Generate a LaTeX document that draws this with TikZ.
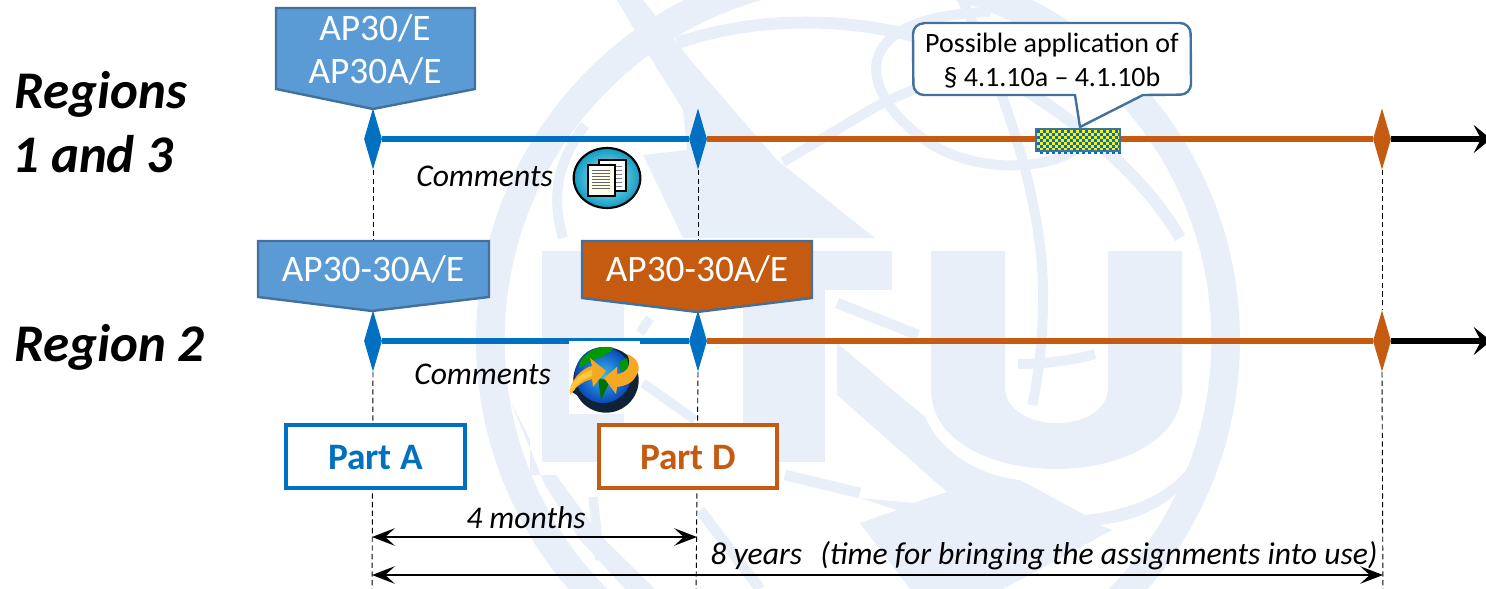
\documentclass[tikz,border=0pt]{standalone}
\usepackage{fontspec}
\setmainfont{Carlito}
\usetikzlibrary{shapes.geometric,arrows.meta}
\definecolor{wm}{HTML}{E8EFF9}
\definecolor{bluebar}{HTML}{0070C0}
\definecolor{rust}{HTML}{C55A11}
\definecolor{steel}{HTML}{41719C}
\definecolor{skyfill}{HTML}{5B9BD5}
\definecolor{iconout}{HTML}{0E9CC4}
\definecolor{iconin}{HTML}{B8ECF4}
\definecolor{globedark}{HTML}{0F2238}
\definecolor{globeblue}{HTML}{0A48B8}
\definecolor{globelight}{HTML}{38B8F0}
\definecolor{arrowa}{HTML}{F7A823}
\definecolor{arrowb}{HTML}{FFC83A}
\tikzset{
  band/.style={draw=wm,line cap=butt,line join=round},
  mark diamond/.style={diamond,aspect=0.3,inner sep=0pt,minimum width=13.5pt,minimum height=46pt,fill=#1,draw=none},
  timeline/.style={line width=4.2pt,draw=#1},
  guide/.style={draw=black,line width=0.7pt,dash pattern=on 4pt off 2.5pt},
  banner/.style={draw=steel,line width=1.8pt,fill=#1,line join=miter},
  bannertext/.style={text=white,font=\fontsize{28}{28}\selectfont,inner sep=0pt,align=center},
  partbox/.style={draw=#1,line width=3pt,fill=white,minimum width=134pt,minimum height=47pt,inner sep=0pt,text=#1,text height=19pt,text depth=0pt,font=\fontsize{28}{28}\selectfont\bfseries},
  region/.style={anchor=base west,inner sep=0pt,font=\fontsize{39.7}{40}\selectfont\bfseries\itshape},
  note/.style={anchor=base west,inner sep=0pt,font=\fontsize{23.7}{24}\selectfont\itshape},
  span/.style={line width=2pt,{Stealth[length=17pt,width=13pt,inset=7pt]}-{Stealth[length=17pt,width=13pt,inset=7pt]}},
  axisend/.style={line width=4.2pt,-{Stealth[length=13pt,width=21pt,inset=5.5pt]}},
}
\begin{document}
\begin{tikzpicture}[x=0.75pt,y=-0.75pt]
\useasboundingbox (0,0) rectangle (1486,589);
\clip (0,0) rectangle (1486,589);
% --- watermark ---
\fill[wm,even odd rule] (858,340) circle [radius=286.5pt] (858,340) circle [radius=265pt];
% letters
\fill[wm] (542,251) rectangle (624,462);
\fill[wm] (640,251) rectangle (892,290);
\fill[wm] (743,290) rectangle (825,462);
\fill[wm,even odd rule] (931,251) -- (1005,251) -- (1005,387) .. controls (1005,410) and (1030,423) .. (1056,423) .. controls (1085,423) and (1108,410) .. (1108,387) -- (1108,251) -- (1182,251) -- (1182,390) .. controls (1182,440) and (1120,469) .. (1056,469) .. controls (990,469) and (931,440) .. (931,390) -- cycle;
% globe meridians
\fill[wm] (617,0) -- (643,0) -- (693,63) -- (777,160) -- (875,238) -- (683,238) -- (643,155) -- (687,150) -- (683,110) -- (650,57) -- cycle;
\draw[band,line width=9pt] (677,43) .. controls (760,15) and (850,18) .. (920,38) .. controls (1010,70) and (1130,150) .. (1180,238);
\draw[band,line width=7.5pt] (1075,150) .. controls (1040,172) and (970,172) .. (925,140) .. controls (890,115) and (872,85) .. (877,60) .. controls (885,30) and (925,14) .. (990,12);
\draw[band,line width=7.5pt] (960,-5) .. controls (1000,80) and (1045,200) .. (1043,300) .. controls (1043,340) and (1038,380) .. (1032,405);
\draw[band,line width=7.5pt] (1018,364) .. controls (1045,364) and (1075,360) .. (1095,354);
\draw[band,line width=7.5pt] (783,162) -- (870,110) .. controls (910,88) and (960,72) .. (1010,62);
\draw[band,line width=7.5pt] (585,125) .. controls (555,165) and (552,200) .. (563,238);
% lower half
\fill[wm] (837,343) -- (925,417) .. controls (940,450) and (975,475) .. (1020,480) -- (1085,515) .. controls (1130,510) and (1170,495) .. (1192,462) .. controls (1190,490) and (1185,490) .. (1180,490) .. controls (1160,510) and (1130,522) .. (1100,525) -- (1112,530) -- (1003,589) -- (910,589) -- (860,523) -- (897,510) -- (860,498) -- (913,503) -- (947,492) -- (837,395) -- cycle;
\draw[band,line width=8pt] (837,303) -- (918,335);
\draw[band,line width=8pt] (785,475) -- (860,493);
\draw[band,line width=7pt] (650,318) -- (640,333);
\draw[band,line width=7pt] (643,383) -- (695,420);
\fill[wm] (510,400) -- (530,440) -- (530,475) -- (556,475) -- (600,535) -- (655,589) -- (625,589) -- (580,540) -- (545,485) -- cycle;
\draw[band,line width=7pt] (593,497) -- (600,560);
\draw[band,line width=8pt] (700,510) -- (760,589);
% --- named marks ---
\node[mark diamond=bluebar] (a1) at (373,139) {};
\node[mark diamond=bluebar] (b1) at (698,139) {};
\node[mark diamond=rust] (c1) at (1382,139) {};
\node[mark diamond=bluebar] (a2) at (373,341) {};
\node[mark diamond=bluebar] (b2) at (698,341) {};
\node[mark diamond=rust] (c2) at (1382,341) {};
\coordinate (e1) at (1491,139);
\coordinate (e2) at (1491,341);
\coordinate (fa) at (372,600);
\coordinate (fb) at (696,600);
\coordinate (fc) at (1383,600);
\coordinate (t1a) at (372,537);
\coordinate (t1b) at (697,537);
\coordinate (t2a) at (372,575);
\coordinate (t2b) at (1383,575);
% --- guides ---
\draw[guide] (a1.south) -- (a2.north);
\draw[guide] (a2.south) -- (fa);
\draw[guide] (b1.south) -- (b2.north);
\draw[guide] (b2.south) -- (fb);
\draw[guide] (c1.south) -- (c2.north);
\draw[guide] (c2.south) -- (fc);
% --- banners ---
\draw[banner=skyfill] (276,8) -- (475,8) -- (475,89) -- (373,109) -- (276,89) -- cycle;
\node[bannertext] (ap1) at (375,28) {AP30/E};
\node[bannertext] (ap2) at (375,71) {AP30A/E};
\draw[banner=skyfill] (258,241) -- (489,241) -- (489,297) -- (372,311) -- (258,297) -- cycle;
\node[bannertext] (ap3) at (373,269) {AP30-30A/E};
\draw[banner=rust] (582,241) -- (812,241) -- (812,298) -- (697,312) -- (582,298) -- cycle;
\node[bannertext] (ap4) at (697,269) {AP30-30A/E};
% --- timelines ---
\draw[timeline=bluebar] (a1.east) -- (b1.west);
\draw[timeline=rust] (b1.east) -- (c1.west);
\draw[axisend] (c1.east) -- (e1);
\draw[timeline=bluebar] (a2.east) -- (b2.west);
\draw[timeline=rust] (b2.east) -- (c2.west);
\draw[axisend] (c2.east) -- (e2);
% --- callout and hatched marker ---
\draw[draw=steel,line width=1.8pt,fill=white,line join=round]
  (924,23) -- (1180,23) arc [start angle=90,end angle=0,radius=8pt] -- (1191,84)
  arc [start angle=0,end angle=-90,radius=8pt] -- (1143,95) -- (1080,127) -- (1075,95) -- (924,95)
  arc [start angle=-90,end angle=-180,radius=8pt] -- (913,34) arc [start angle=180,end angle=90,radius=8pt] -- cycle;
\node[inner sep=0pt,align=center,font=\fontsize{21}{25.5}\selectfont] (callout) at (1052,61) {Possible application of\\§ 4.1.10a – 4.1.10b};
\fill[yellow] (1036,129) rectangle (1120,151);
\foreach \i in {0,...,13}{\foreach \j in {0,...,3}{
  \fill[bluebar] ({1037+6*\i},{130+6*\j}) rectangle +(3,3);
  \fill[bluebar] ({1040+6*\i},{133+6*\j}) rectangle +(3,3);
}}
\draw[steel,line width=1.7pt] (1036,129) rectangle (1120,151);
% --- notes ---
\node[region] (r1) at (14,108) {Regions};
\node[region] (r2) at (12,172) {1 and 3};
\node[region] (r3) at (14,361) {Region 2};
\node[note] (c1t) at (416,186) {Comments};
\node[note] (c2t) at (414,384) {Comments};
% --- document icon ---
\shade[inner color=iconin,outer color=iconout,draw=black,line width=1.6pt] (607,178) ellipse [x radius=25pt,y radius=22.5pt];
\draw[black,fill=white,line width=0.9pt] (599,160) rectangle (626,191);
\foreach \y in {166,170,174,178,182,186} \draw[gray,line width=.6pt] (615,\y) -- (622,\y);
\draw[black,fill=white,line width=1pt] (588,165) rectangle (615,196);
\fill[yellow!8] (590,180) -- (604,167) -- (613,167) -- (613,194) -- (590,194) -- cycle;
\foreach \y in {170,173,176,179,182,185,188} \draw[gray!80!black,line width=.6pt] (592,\y) -- (610,\y);
% --- globe icon ---
\fill[white] (569,341) rectangle (640,414);
\fill[globedark] (606,380) ellipse [x radius=24.5pt,y radius=24.5pt];
\fill[globedark] (572,392) -- (590,378) -- (600,410) -- cycle;
\shade[inner color=globelight,outer color=globeblue] (603,375) circle [radius=21pt];
\fill[green!60!black] (586,355) .. controls (592,348) and (606,345) .. (614,348) .. controls (610,353) and (604,355) .. (600,358) .. controls (594,358) and (588,364) .. (579,368) .. controls (579,362) and (582,358) .. (586,355) -- cycle;
\fill[green!45!black] (598,378) -- (610,381) -- (601,400) -- cycle;
\fill[green!60!black] (619,362) -- (627,358) -- (629,368) -- (621,372) -- cycle;
\fill[arrowa] (570,395) .. controls (568,382) and (582,368) .. (592,366) -- (590,358) -- (606,371) -- (593,387) -- (592,379) .. controls (584,381) and (576,386) .. (570,395) -- cycle;
\fill[arrowb] (570,395) .. controls (568,384) and (580,373) .. (592,370) -- (592,376) .. controls (584,378) and (576,384) .. (570,395) -- cycle;
\fill[arrowa] (627,354) .. controls (638,358) and (642,368) .. (636,376) .. controls (632,384) and (624,386) .. (617,387) -- (616,394) -- (604,378) -- (617,367) -- (617,374) .. controls (626,373) and (633,366) .. (627,354) -- cycle;
% --- part boxes ---
\node[partbox=bluebar] (pa) at (375.5,456.5) {Part A};
\node[partbox=rust] (pd) at (688,456.5) {Part D};
% --- spans ---
\draw[span] (t1a) -- (t1b);
\draw[span] (t2a) -- (t2b);
\node[note,anchor=base] (m4) at (526,528) {4 months};
\node[note,anchor=base] (y8) at (1044,564) {8 years\hspace{0.35em} (time for bringing the assignments into use)};
\end{tikzpicture}
\end{document}
